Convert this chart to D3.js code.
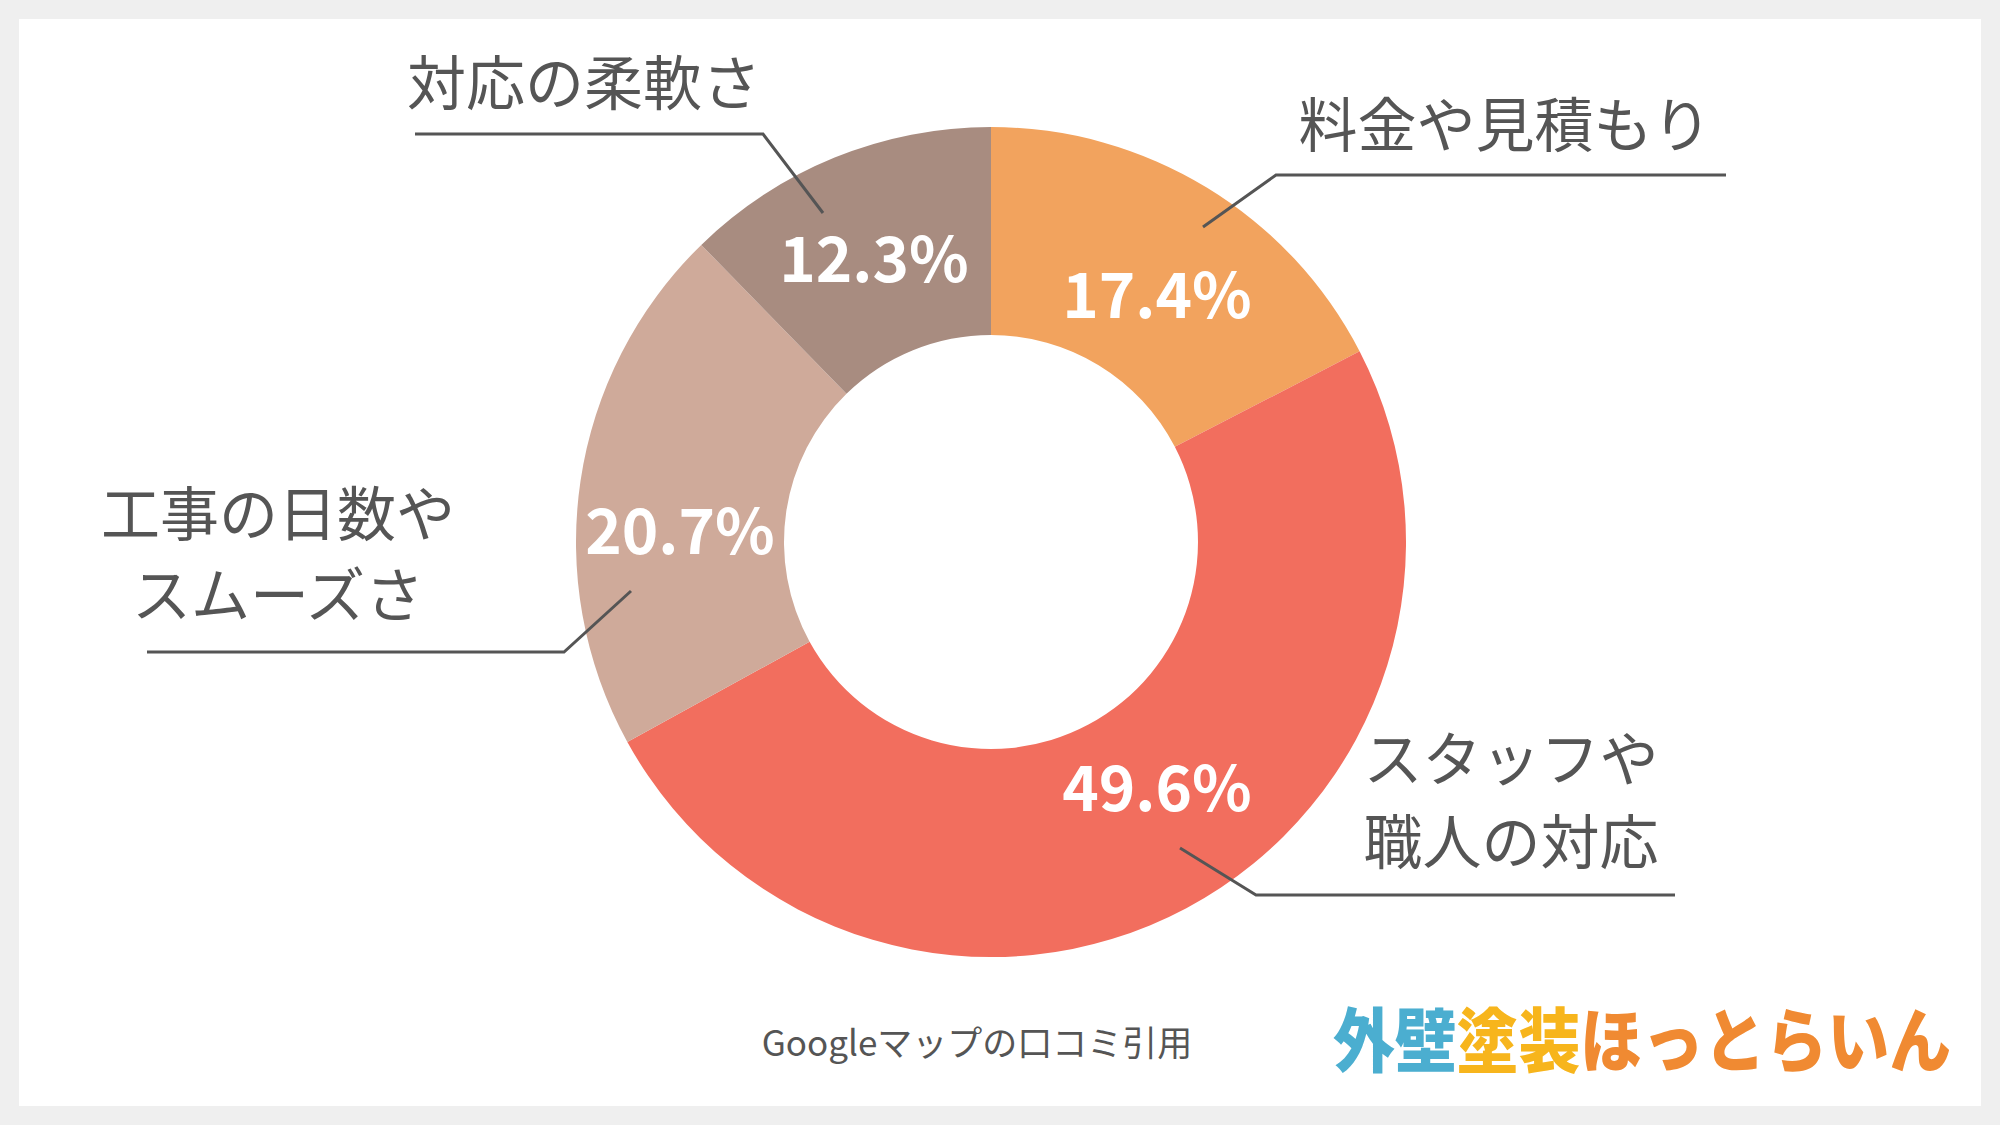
<!DOCTYPE html><html><head><meta charset="utf-8"><script src="https://cdn.jsdelivr.net/npm/d3@7"></script>
<style>body{margin:0;background:#efefef}</style></head><body><svg id="c" width="2000" height="1125"></svg>
<script>
const categories=["料金や見積もり","スタッフや職人の対応","工事の日数やスムーズさ","対応の柔軟さ"];
const values=[17.4,49.6,20.7,12.3];
const colors=["#F2A35E","#F26E5E","#CFAA9A","#A88C80"];
const pctPos=[[1157,291],[1157,784],[680,527],[874,255]];
const labelLines=[[["料金や見積もり",1505,121]],[["スタッフや",1511,755],["職人の対応",1511,838]],[["工事の日数や",278,510],["スムーズさ",278,591]],[["対応の柔軟さ",584,79]]];
const leaders=[[[1203,227],[1276,175],[1726,175]],[[1180,848],[1256,895],[1675,895]],[[147,652],[564,652],[631,591]],[[415,134],[763,134],[823,213]]];
const svg=d3.select("#c");
svg.append("rect").attr("x",19).attr("y",19).attr("width",1962).attr("height",1087).attr("fill","#fff");
const g=svg.append("g").attr("transform","translate(991,542)");
const pie=d3.pie().sort(null).value(d=>d);
const arc=d3.arc().innerRadius(207).outerRadius(415);
g.selectAll("path").data(pie(values)).join("path").attr("d",arc).attr("fill",(d,i)=>colors[i]);
const font="'Noto Sans CJK JP','Noto Sans',sans-serif";
values.forEach((v,i)=>{
 svg.append("text").attr("x",pctPos[i][0]).attr("y",pctPos[i][1]).attr("text-anchor","middle").attr("dominant-baseline","central")
 .attr("font-family",font).attr("font-weight",700).attr("font-size",62).attr("fill","#fff").text(v.toFixed(1)+"%");
 labelLines[i].forEach(l=>svg.append("text").attr("x",l[1]).attr("y",l[2]).attr("text-anchor","middle").attr("dominant-baseline","central")
 .attr("font-family",font).attr("font-size",59).attr("fill","#555").text(l[0]));
 svg.append("path").attr("d",d3.line()(leaders[i])).attr("fill","none").attr("stroke","#555").attr("stroke-width",3);
});
svg.append("text").attr("x",977).attr("y",1040).attr("text-anchor","middle").attr("dominant-baseline","central")
 .attr("font-family",font).attr("font-size",35).attr("fill","#555").text("Googleマップの口コミ引用");
const logo=svg.append("text").attr("x",1333).attr("y",1036).attr("dominant-baseline","central").attr("font-family",font).attr("font-weight",900).attr("font-size",70)
 .attr("textLength",618).attr("lengthAdjust","spacingAndGlyphs");
logo.append("tspan").attr("fill","#4BAED0").text("外壁");
logo.append("tspan").attr("fill","#F7B51C").text("塗装");
logo.append("tspan").attr("fill","#F08A32").text("ほっとらいん");
</script></body></html>
